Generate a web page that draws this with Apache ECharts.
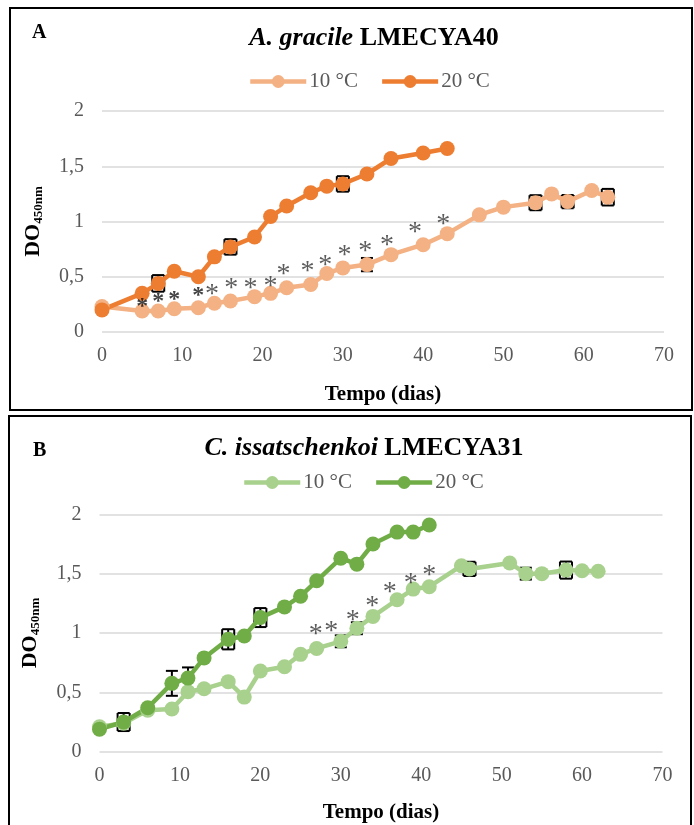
<!DOCTYPE html>
<html>
<head>
<meta charset="utf-8">
<script src="https://cdn.jsdelivr.net/npm/echarts@6/dist/echarts.min.js"></script>
<style>html,body{margin:0;padding:0;background:#fff}#c{width:694px;height:825px}</style>
</head>
<body>
<div id="c"></div>
<script>
// ---- Panel A: A. gracile LMECYA40 ----
const daysA20 = [0,5,7,9,12,14,16,19,21,23,26,28,30,33,36,40,43];
const valsA20 = [0.20,0.35,0.44,0.55,0.50,0.68,0.77,0.86,1.045,1.14,1.26,1.32,1.34,1.43,1.57,1.62,1.66];
const yerrA20 = [0,0,0.075,0,0,0,0.07,0,0,0,0,0,0.07,0,0,0,0];
const xerrA20 = [0,0,0.75,0,0,0,0.75,0,0,0,0,0,0.75,0,0,0,0];

const daysA10 = [0,5,7,9,12,14,16,19,21,23,26,28,30,33,36,40,43,47,50,54,56,58,61,63];
const valsA10 = [0.23,0.19,0.19,0.21,0.22,0.26,0.28,0.32,0.35,0.40,0.43,0.53,0.58,0.61,0.70,0.79,0.89,1.06,1.13,1.17,1.25,1.18,1.28,1.22];
const yerrA10 = [0,0,0,0,0,0,0,0,0,0,0,0,0,0.06,0,0,0,0,0,0.068,0,0.06,0,0.075];
const xerrA10 = [0,0,0,0,0,0,0,0,0,0,0,0,0,0.5,0,0,0,0,0,0.75,0,0.75,0,0.75];

const starsBoldA = [[5,0.26],[7,0.31],[9,0.33],[12,0.36]];
const starsA = [[13.7,0.38],[16.1,0.44],[18.5,0.44],[21,0.46],[22.6,0.56],[25.6,0.59],[27.8,0.65],[30.2,0.74],[32.8,0.77],[35.5,0.83],[39,0.94],[42.5,1.02]];

// ---- Panel B: C. issatschenkoi LMECYA31 ----
const daysB20 = [0,3,6,9,11,13,16,18,20,23,25,27,30,32,34,37,39,41];
const valsB20 = [0.19,0.25,0.37,0.576,0.62,0.79,0.947,0.975,1.13,1.22,1.31,1.44,1.63,1.58,1.75,1.85,1.85,1.91];
const yerrB20 = [0,0.076,0,0.105,0.09,0,0.085,0,0.08,0,0,0,0,0,0,0,0,0];
const xerrB20 = [0,0.75,0,0,0,0,0.75,0,0.75,0,0,0,0,0,0,0,0,0];

const daysB10 = [0,3,6,9,11,13,16,18,20,23,25,27,30,32,34,37,39,41,45,46,51,53,55,58,60,62];
const valsB10 = [0.21,0.24,0.35,0.36,0.505,0.53,0.59,0.46,0.68,0.716,0.82,0.87,0.93,1.04,1.14,1.28,1.37,1.39,1.567,1.54,1.59,1.50,1.50,1.53,1.525,1.52];
const yerrB10 = [0,0,0,0,0,0,0,0,0,0,0,0,0.05,0.05,0,0,0,0,0,0.06,0,0.05,0,0.072,0,0];
const xerrB10 = [0,0,0,0,0,0,0,0,0,0,0,0,0.5,0.5,0,0,0,0,0,0.75,0,0.6,0,0.75,0,0];

const starsB = [[26.9,1.025],[28.8,1.053],[31.5,1.15],[33.9,1.26],[36.1,1.385],[38.7,1.455],[41,1.525]];

const xTicks = {min:0, max:70, interval:10};
const yTicks = {min:0, max:2, interval:0.5};
const legendNames = ['10 °C','20 °C'];

const FONT = '"Liberation Serif","Times New Roman",serif';
const colA10 = '#F4B183', colA20 = '#ED7D31', colB10 = '#A9D18E', colB20 = '#70AD47';

function pts(d, v){ return d.map((x,i)=>[x, v[i]]); }
function errPts(d, v, ye, xe){
  const out = [];
  d.forEach((x,i)=>{ if (ye[i] > 0 || xe[i] > 0) out.push([x, v[i], ye[i], xe[i]]); });
  return out;
}
function errRender(params, api){
  const x = api.value(0), y = api.value(1), ye = api.value(2), xe = api.value(3);
  const st = {stroke:'#000', lineWidth:2};
  const ch = [];
  if (ye > 0){
    const t = api.coord([x, y+ye]), b = api.coord([x, y-ye]);
    ch.push({type:'line', shape:{x1:t[0],y1:t[1],x2:b[0],y2:b[1]}, style:st});
    ch.push({type:'line', shape:{x1:t[0]-6,y1:t[1],x2:t[0]+6,y2:t[1]}, style:st});
    ch.push({type:'line', shape:{x1:b[0]-6,y1:b[1],x2:b[0]+6,y2:b[1]}, style:st});
  }
  if (xe > 0){
    const l = api.coord([x-xe, y]), r = api.coord([x+xe, y]);
    const h = ye > 0 ? Math.abs(api.coord([x, y+ye])[1]-l[1]) : 7;
    ch.push({type:'line', shape:{x1:l[0],y1:l[1],x2:r[0],y2:r[1]}, style:st});
    ch.push({type:'line', shape:{x1:l[0],y1:l[1]-h,x2:l[0],y2:l[1]+h}, style:st});
    ch.push({type:'line', shape:{x1:r[0],y1:r[1]-h,x2:r[0],y2:r[1]+h}, style:st});
  }
  return {type:'group', children:ch};
}

function xAxis(idx, gap){
  return {gridIndex:idx, type:'value', min:xTicks.min, max:xTicks.max, interval:xTicks.interval,
    axisLine:{show:false}, axisTick:{show:false}, splitLine:{show:false},
    axisLabel:{color:'#595959', fontSize:20, fontFamily:FONT, margin:14},
    name:'Tempo (dias)', nameLocation:'middle', nameGap:gap,
    nameTextStyle:{color:'#000', fontSize:21, fontWeight:'bold', fontFamily:FONT}};
}
function yAxis(idx){
  return {gridIndex:idx, type:'value', min:yTicks.min, max:yTicks.max, interval:yTicks.interval,
    axisLine:{show:false}, axisTick:{show:false},
    splitLine:{lineStyle:{color:'#D9D9D9', width:1.5}},
    axisLabel:{color:'#595959', fontSize:20, fontFamily:FONT, margin:18,
      formatter: v => String(v).replace('.', ',')},
    name:'{a|DO}{b|450nm}', nameLocation:'middle', nameGap:58, nameRotate:90,
    nameTextStyle:{color:'#000', fontFamily:FONT, fontWeight:'bold',
      rich:{a:{fontSize:22, fontWeight:'bold', fontFamily:FONT, color:'#000', verticalAlign:'top', lineHeight:22},
            b:{fontSize:13, fontWeight:'bold', fontFamily:FONT, color:'#000', verticalAlign:'top', lineHeight:13, padding:[10,0,0,0]}}}};
}
function lineSeries(name, data, color, gi){
  return {type:'line', name:name, xAxisIndex:gi, yAxisIndex:gi, data:data,
    symbol:'circle', symbolSize:15, itemStyle:{color:color}, lineStyle:{color:color, width:4.5},
    z:3, animation:false};
}
function errSeries(data, gi){
  return {type:'custom', xAxisIndex:gi, yAxisIndex:gi, data:data, renderItem:errRender, z:2, silent:true, animation:false};
}
function starSeries(data, gi, bold){
  return {type:'scatter', xAxisIndex:gi, yAxisIndex:gi, data:data, symbolSize:1,
    itemStyle:{color:'rgba(0,0,0,0)'}, z:4, silent:true, animation:false,
    label:{show:true, position:'inside', formatter:'*', color: bold ? '#111' : '#333',
      fontSize: bold ? 24 : 28, fontWeight: bold ? 'bold' : 'normal', fontFamily:FONT, offset:[0, bold ? 4 : 5]}};
}
function richTitle(it, rest, x, y){
  const st = {fontSize:26, fontWeight:'bold', fontFamily:FONT, color:'#000'};
  return {text:'{i|'+it+'} {b|'+rest+'}', left:x, top:y, textAlign:'center', textVerticalAlign:'middle', padding:0,
    textStyle:Object.assign({}, st, {rich:{i:Object.assign({fontStyle:'italic'}, st), b:st}})};
}
function letter(t, x, y){
  return {text:t, left:x, top:y, textVerticalAlign:'middle', padding:0,
    textStyle:{fontSize:20, fontWeight:'bold', fontFamily:FONT, color:'#000'}};
}
function legend(series, left, top){
  return {left:left, top:top, padding:0, itemWidth:56, itemHeight:16, itemGap:22, data:series,
    formatter: n => n.slice(2),
    lineStyle:{width:4.5},
    textStyle:{color:'#595959', fontSize:21, fontFamily:FONT, padding:[0,0,0,-2]}};
}

const chart = echarts.init(document.getElementById('c'), null, {renderer:'canvas'});
chart.setOption({
  animation:false,
  backgroundColor:'#fff',
  title:[
    richTitle('A. gracile', 'LMECYA40', 374, 38),
    letter('A', 32, 33),
    richTitle('C. issatschenkoi', 'LMECYA31', 364, 448),
    letter('B', 33, 451)
  ],
  legend:[
    legend(['A ' + legendNames[0], 'A ' + legendNames[1]], 248, 71),
    legend(['B ' + legendNames[0], 'B ' + legendNames[1]], 242, 472)
  ],
  grid:[
    {left:102, top:111, width:562, height:221},
    {left:99.5, top:514.3, width:563, height:237.4}
  ],
  xAxis:[xAxis(0, 52), xAxis(1, 50)],
  yAxis:[yAxis(0), yAxis(1)],
  graphic:[
    {type:'rect', shape:{x:10, y:8, width:682, height:402}, style:{fill:'none', stroke:'#000', lineWidth:2}, silent:true},
    {type:'rect', shape:{x:9, y:416, width:682, height:420}, style:{fill:'none', stroke:'#000', lineWidth:2}, silent:true}
  ],
  series:[
    errSeries(errPts(daysA10, valsA10, yerrA10, xerrA10), 0),
    errSeries(errPts(daysA20, valsA20, yerrA20, xerrA20), 0),
    lineSeries('A ' + legendNames[0], pts(daysA10, valsA10), colA10, 0),
    lineSeries('A ' + legendNames[1], pts(daysA20, valsA20), colA20, 0),
    starSeries(starsBoldA, 0, true),
    starSeries(starsA, 0, false),
    errSeries(errPts(daysB10, valsB10, yerrB10, xerrB10), 1),
    errSeries(errPts(daysB20, valsB20, yerrB20, xerrB20), 1),
    lineSeries('B ' + legendNames[0], pts(daysB10, valsB10), colB10, 1),
    lineSeries('B ' + legendNames[1], pts(daysB20, valsB20), colB20, 1),
    starSeries(starsB, 1, false)
  ]
});
</script>
</body>
</html>
